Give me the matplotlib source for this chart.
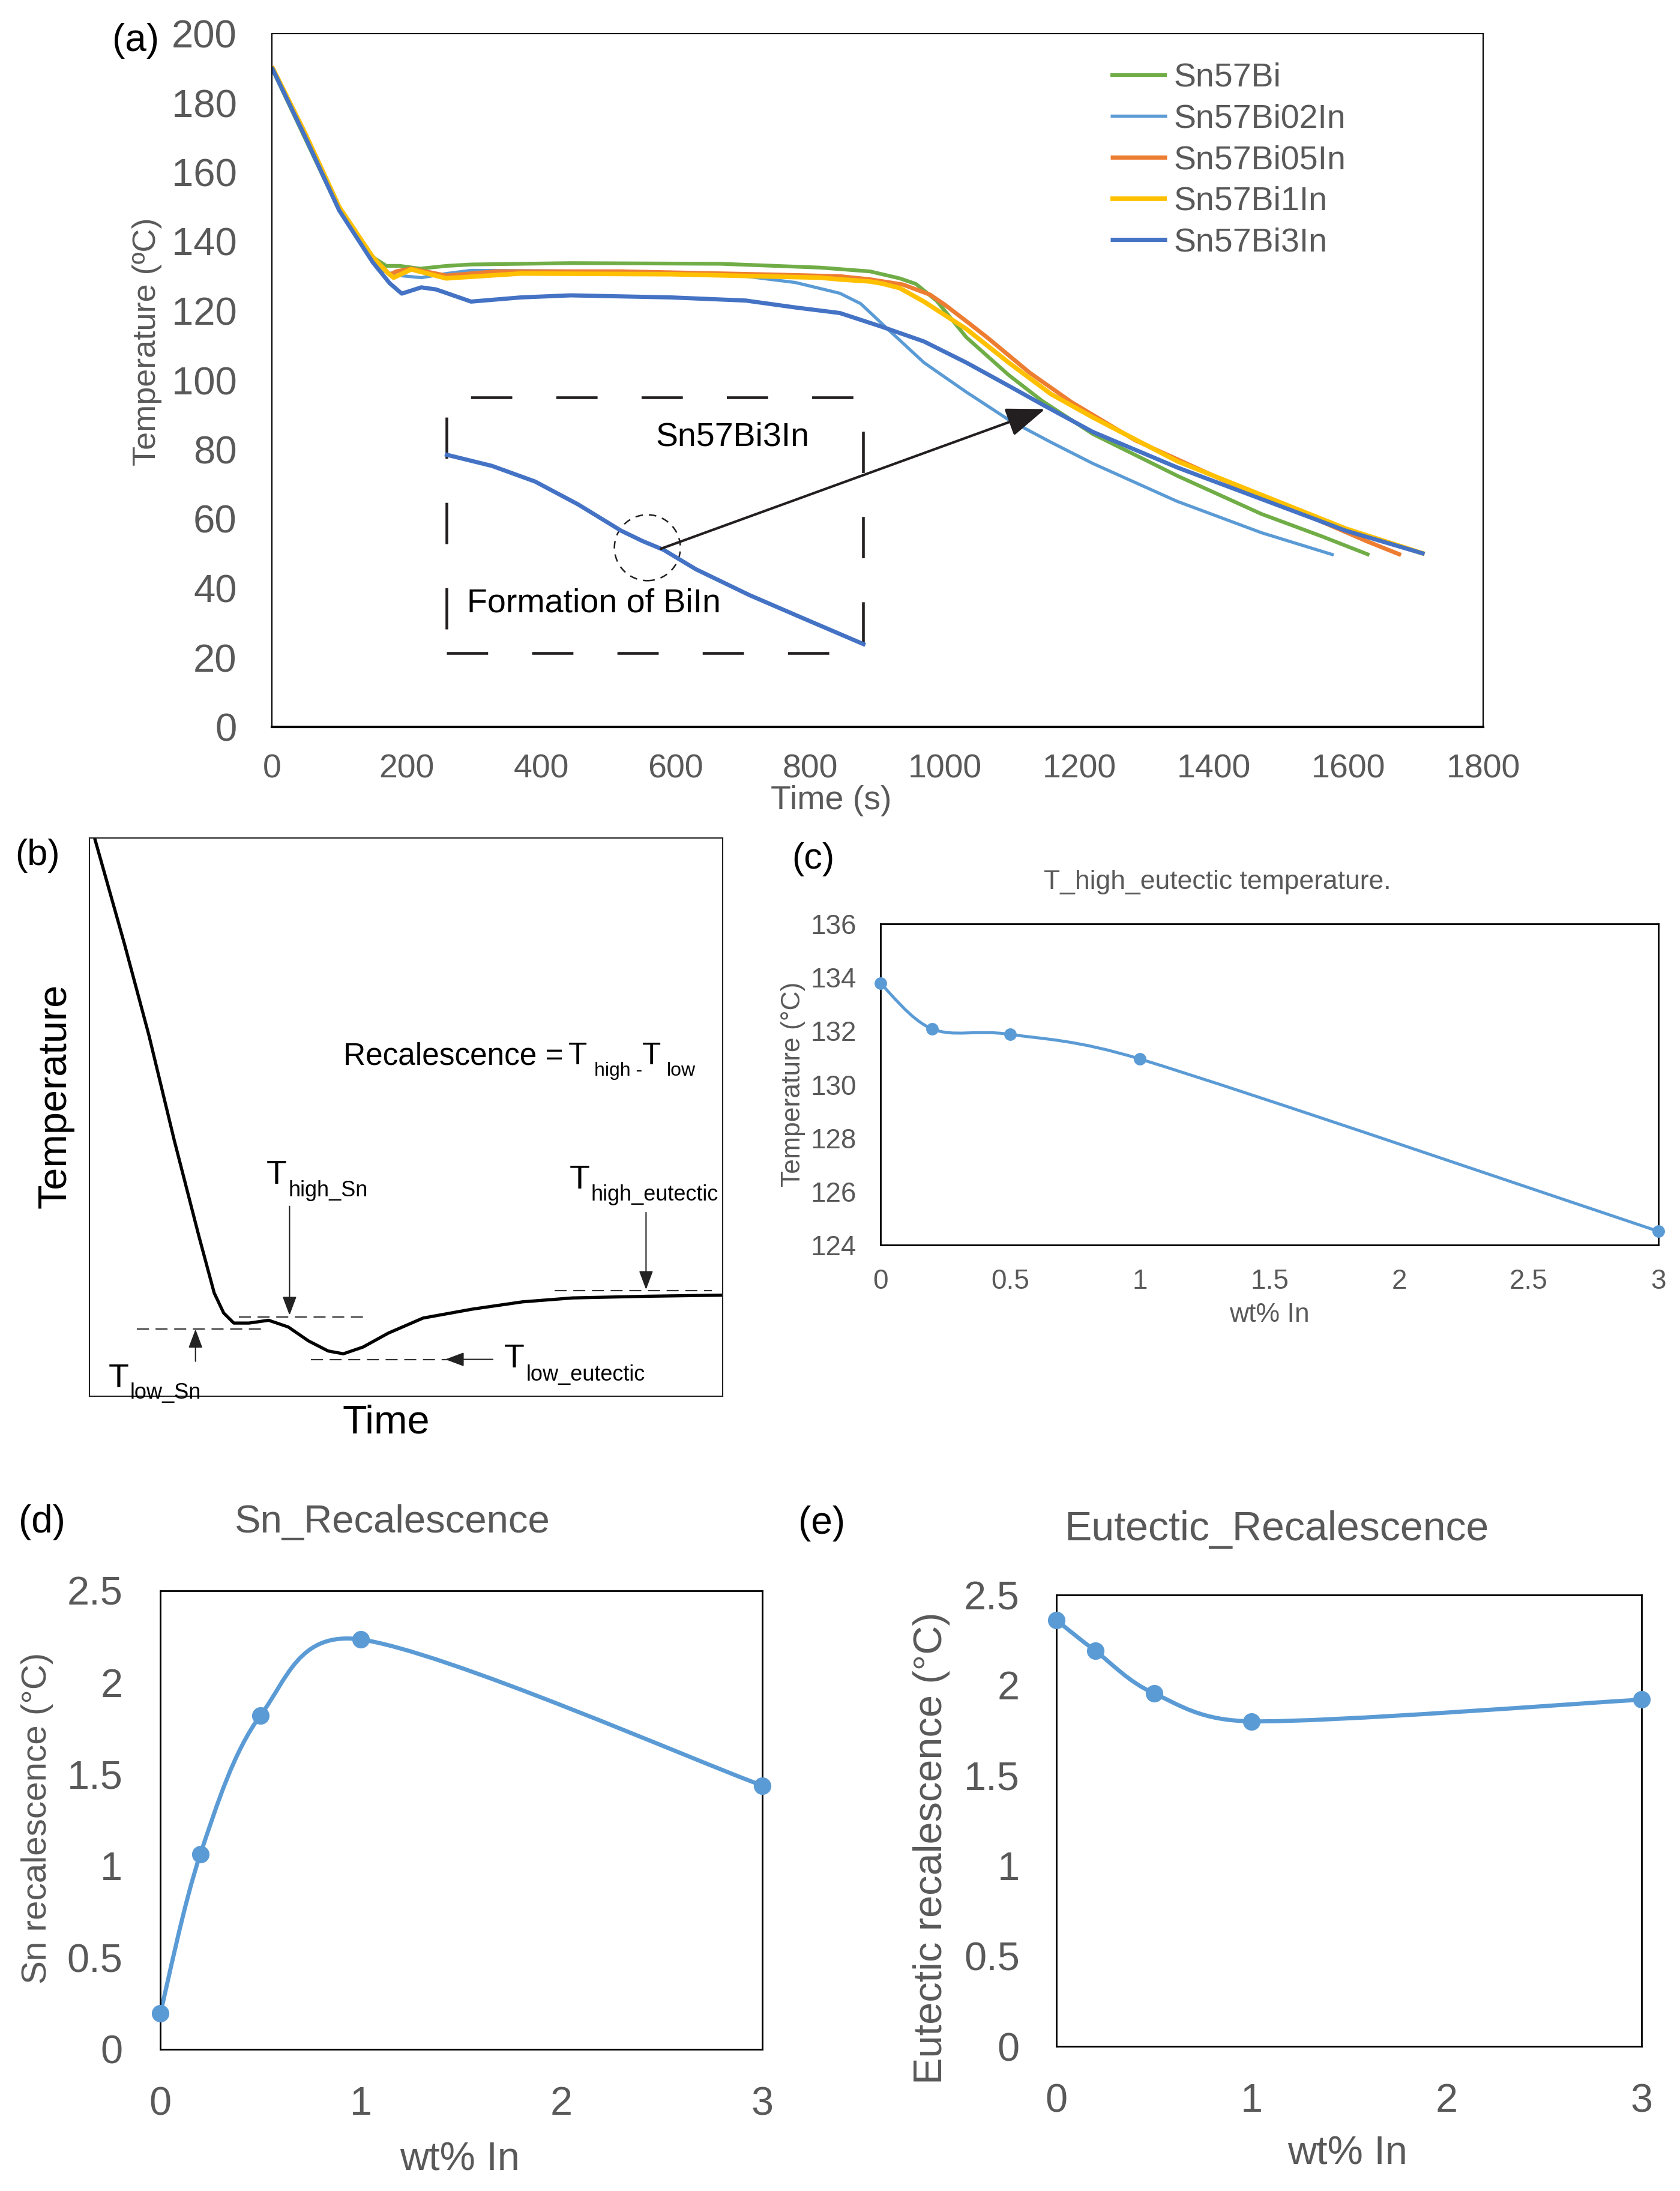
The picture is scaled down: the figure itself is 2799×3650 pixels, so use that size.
import numpy as np
import matplotlib
matplotlib.use("Agg")
import matplotlib.pyplot as plt
from matplotlib.path import Path
from matplotlib.patches import PathPatch, Rectangle, Ellipse

plt.rcParams['font.family'] = ['Liberation Sans', 'DejaVu Sans']

W, H = 2799, 3650
GRAY = '#595959'
BLK = '#231F20'
EXBLUE = '#5B9BD5'

# ---------------- data: panel (a) cooling curves ----------------
sn57bi_t = [0, 50, 100, 150, 170, 190, 220, 260, 296, 444, 667, 815, 889, 933, 957, 988, 1032, 1095, 1145, 1220, 1346, 1471, 1560, 1631]
sn57bi_T = [190, 169.5, 149, 135.5, 133, 133, 132.2, 133, 133.4, 133.8, 133.6, 132.5, 131.4, 129.4, 127.8, 122.9, 112.4, 101.5, 94.0, 84.5, 72.4, 61.4, 55.0, 49.6]

sn57bi02in_t = [0, 50, 100, 150, 163, 185, 222, 260, 296, 519, 704, 778, 844, 875, 915, 969, 1032, 1095, 1158, 1220, 1345, 1471, 1578]
sn57bi02in_T = [190, 170, 149, 134, 131.7, 130.3, 129.6, 130.8, 131.7, 131.4, 130.0, 128.2, 125.1, 122.1, 114.8, 105.1, 96.6, 88.6, 82.1, 76.0, 65.1, 56.0, 49.6]

sn57bi05in_t = [0, 50, 100, 150, 175, 185, 207, 259, 333, 519, 741, 844, 889, 938, 978, 1000, 1037, 1064, 1126, 1189, 1283, 1408, 1534, 1628, 1678]
sn57bi05in_T = [190.5, 171, 150, 135.5, 130.5, 131.4, 132.2, 130.2, 131.4, 131.4, 130.5, 130.0, 129.1, 127.6, 124.7, 121.8, 116.3, 112.2, 102.2, 93.6, 82.7, 71.7, 61.4, 53.5, 49.6]

sn57bi1in_t = [0, 50, 100, 150, 172, 181, 207, 259, 370, 593, 815, 844, 889, 907, 933, 969, 1032, 1095, 1158, 1220, 1346, 1471, 1596, 1713]
sn57bi1in_T = [190.5, 171, 150, 135.5, 131, 129.6, 132, 129.4, 130.8, 130.6, 129.6, 129.1, 128.5, 127.9, 126.6, 122.7, 114.8, 105.1, 96.0, 89.3, 76.6, 66.9, 57.2, 49.9]

sn57bi3in_t = [0, 50, 100, 150, 175, 193, 222, 244, 296, 370, 444, 593, 704, 778, 844, 907, 969, 1032, 1095, 1145, 1220, 1346, 1471, 1596, 1713]
sn57bi3in_T = [190.2, 170, 149, 134, 128, 125.0, 126.8, 126.2, 122.7, 123.9, 124.5, 123.9, 123.0, 121.0, 119.4, 115.4, 111.2, 105.1, 98.4, 93.0, 85.1, 74.8, 65.7, 56.6, 49.9]

inset_t = [260, 327, 391, 455, 519, 551, 582, 630, 710, 790, 879]
inset_T = [78.5, 75.3, 70.8, 64.2, 56.6, 53.6, 51.1, 45.5, 38.0, 31.3, 23.9]

series_names = ['Sn57Bi', 'Sn57Bi02In', 'Sn57Bi05In', 'Sn57Bi1In', 'Sn57Bi3In']
series_colors = ['#70AD47', '#5B9BD5', '#ED7D31', '#FFC000', '#4472C4']
series_lw = [4.5, 3.8, 5.0, 5.5, 5.0]

a_xticks = [0, 200, 400, 600, 800, 1000, 1200, 1400, 1600, 1800]
a_yticks = [0, 20, 40, 60, 80, 100, 120, 140, 160, 180, 200]

# ---------------- data: panel (b) schematic (axes fractions) ----------------
schem_x = [0.008, 0.055, 0.094, 0.134, 0.173, 0.197, 0.212, 0.228, 0.252, 0.283, 0.314, 0.346, 0.377, 0.401, 0.432, 0.472, 0.527, 0.605, 0.684, 0.763, 0.881, 1.0]
schem_y = [1.0, 0.811, 0.646, 0.458, 0.286, 0.185, 0.149, 0.131, 0.131, 0.136, 0.124, 0.099, 0.081, 0.076, 0.088, 0.113, 0.140, 0.156, 0.169, 0.176, 0.179, 0.181]

# ---------------- data: panels (c)-(e) ----------------
wt_in = [0, 0.2, 0.5, 1, 3]
t_high_eut = [133.77, 132.07, 131.87, 130.95, 124.51]
sn_recal = [0.195, 1.065, 1.821, 2.234, 1.438]
eut_recal = [2.36, 2.19, 1.955, 1.80, 1.92]


def fx(px):
    return px / W


def fy(py):
    return 1 - py / H


def ax_rect(l, r, t, b):
    return [l / W, 1 - b / H, (r - l) / W, (b - t) / H]


def smooth_path(ax, x, y):
    """Excel-like smoothed line: Bezier segments built in display space, returned in data space."""
    pts = ax.transData.transform(np.column_stack([np.asarray(x, float), np.asarray(y, float)]))
    n = len(pts)
    verts = [pts[0]]
    codes = [Path.MOVETO]
    for i in range(n - 1):
        p0 = pts[i - 1] if i > 0 else pts[i]
        p1 = pts[i]
        p2 = pts[i + 1]
        p3 = pts[i + 2] if i + 2 < n else pts[i + 1]
        seg = np.hypot(*(p2 - p1))
        v1 = (p2 - p0) / 6.0
        v2 = (p3 - p1) / 6.0
        for v in (v1, v2):
            L = np.hypot(*v)
            if L > seg / 2 and L > 0:
                v *= (seg / 2) / L
        verts += [p1 + v1, p2 - v2, p2]
        codes += [Path.CURVE4] * 3
    verts = ax.transData.inverted().transform(np.array(verts))
    return Path(verts, codes)


fig = plt.figure(figsize=(W / 100, H / 100), dpi=100)

# =============== panel (a) ===============
axa = fig.add_axes(ax_rect(453, 2471, 56, 1211))
all_t = [sn57bi_t, sn57bi02in_t, sn57bi05in_t, sn57bi1in_t, sn57bi3in_t]
all_T = [sn57bi_T, sn57bi02in_T, sn57bi05in_T, sn57bi1in_T, sn57bi3in_T]
for t, T, name, c, lw in zip(all_t, all_T, series_names, series_colors, series_lw):
    axa.plot(t, T, color=c, lw=lw, label=name, solid_joinstyle='round', solid_capstyle='butt')
axa.set_xlim(0, 1800)
axa.set_ylim(0, 200)
axa.set_xticks(a_xticks)
axa.set_yticks(a_yticks)
axa.tick_params(axis='y', length=0, labelsize=47, labelcolor=GRAY, pad=42)
axa.tick_params(axis='x', length=0, labelsize=40, labelcolor=GRAY, pad=32)
for s in ['left', 'right', 'top']:
    axa.spines[s].set_linewidth(1.5)
axa.spines['bottom'].set_linewidth(3.0)

leg = axa.legend(loc='upper left', bbox_to_anchor=(fx(1850), fy(104)), bbox_transform=fig.transFigure,
                 frameon=False, fontsize=40, handlelength=1.7, handletextpad=0.2, labelspacing=0.3,
                 borderpad=0, borderaxespad=0, labelcolor=GRAY)

# inset
axa.add_patch(Rectangle((260, 21.3), 619, 73.7, fill=False, edgecolor=BLK, lw=3.3,
                        linestyle=(0, (15, 16))))
axa.plot(inset_t, inset_T, color='#4472C4', lw=5.0, solid_joinstyle='round')
axa.add_patch(Ellipse((558, 51.7), 98, 19, fill=False, edgecolor=BLK, lw=1.8, linestyle=(0, (5, 4))))
axa.annotate('', xy=(1149, 91.7), xytext=(578, 51.4),
             arrowprops=dict(arrowstyle='-|>,head_length=1.6,head_width=0.6', mutation_scale=25,
                             lw=3, color=BLK, shrinkA=0, shrinkB=0))
axa.text(685, 83.5, 'Sn57Bi3In', fontsize=40, color='black', ha='center', va='center')
axa.text(290, 35.5, 'Formation of BiIn', fontsize=40, color='black', ha='left', va='center')

fig.text(fx(187), fy(68), '(a)', fontsize=46, color='black', ha='left', va='center')
fig.text(fx(245), fy(569), 'Temperature (ºC)', fontsize=39, color=GRAY, rotation=90, ha='center', va='center')
fig.text(fx(1385), fy(1334), 'Time (s)', fontsize=40, color=GRAY, ha='center', va='center')

# =============== panel (b) ===============
axb = fig.add_axes(ax_rect(149, 1204, 1395.5, 2326))
axb.plot(schem_x, schem_y, color='black', lw=3.8, solid_joinstyle='round')
axb.set_xlim(0, 1)
axb.set_ylim(0, 1)
axb.set_xticks([])
axb.set_yticks([])
for s in axb.spines.values():
    s.set_linewidth(1.5)
    s.set_edgecolor('#222222')

dash_kw = dict(color='#333333', lw=1.6, linestyle=(0, (9, 5)))
axb.plot([0.075, 0.275], [0.120, 0.120], **dash_kw)
axb.plot([0.236, 0.44], [0.142, 0.142], **dash_kw)
axb.plot([0.35, 0.566], [0.066, 0.066], **dash_kw)
axb.plot([0.735, 0.983], [0.189, 0.189], **dash_kw)

arr_kw = dict(arrowstyle='-|>,head_length=1.6,head_width=0.6', mutation_scale=12, lw=1.5,
              color='#222222', shrinkA=0, shrinkB=0)
axb.annotate('', xy=(0.1675, 0.120), xytext=(0.1675, 0.0626), arrowprops=arr_kw)
axb.annotate('', xy=(0.316, 0.145), xytext=(0.316, 0.340), arrowprops=arr_kw)
axb.annotate('', xy=(0.879, 0.191), xytext=(0.879, 0.329), arrowprops=arr_kw)
axb.annotate('', xy=(0.562, 0.066), xytext=(0.637, 0.066), arrowprops=arr_kw)

tb = dict(transform=axb.transAxes, color='black', ha='left', va='baseline', clip_on=False)
axb.text(0.401, 0.594, 'Recalescence =', fontsize=37, **tb)
axb.text(0.756, 0.594, 'T', fontsize=37, **tb)
axb.text(0.797, 0.574, 'high -', fontsize=23, **tb)
axb.text(0.873, 0.594, 'T', fontsize=37, **tb)
axb.text(0.912, 0.574, 'low', fontsize=23, **tb)

axb.text(0.279, 0.380, 'T', fontsize=40, **tb)
axb.text(0.3145, 0.358, 'high_Sn', fontsize=26, **tb)
axb.text(0.758, 0.372, 'T', fontsize=40, **tb)
axb.text(0.792, 0.3507, 'high_eutectic', fontsize=26, **tb)
axb.text(0.655, 0.052, 'T', fontsize=40, **tb)
axb.text(0.690, 0.028, 'low_eutectic', fontsize=26, **tb)
axb.text(0.030, 0.016, 'T', fontsize=40, **tb)
axb.text(0.064, -0.004, 'low_Sn', fontsize=26, **tb)

fig.text(fx(25), fy(1425), '(b)', fontsize=44, color='black', ha='left', va='center')
fig.text(fx(93), fy(1826), 'Temperature', fontsize=48, color='black', rotation=90, ha='center', va='center')
fig.text(fx(643), fy(2371), 'Time', fontsize=48, color='black', ha='center', va='center')


# =============== helper for (c)-(e) ===============
def excel_panel(rect, x, y, ylim, yticks, xticks, xticklabels, yticklabels, tick_fs, ypad, xpad, lw, ms):
    ax = fig.add_axes(rect)
    ax.set_xlim(0, 3)
    ax.set_ylim(*ylim)
    ax.add_patch(PathPatch(smooth_path(ax, x, y), fill=False, edgecolor=EXBLUE, lw=lw,
                           capstyle='round', joinstyle='round'))
    ax.plot(x, y, linestyle='none', marker='o', ms=ms, color=EXBLUE, clip_on=False, zorder=3)
    ax.set_xticks(xticks)
    ax.set_xticklabels(xticklabels)
    ax.set_yticks(yticks)
    ax.set_yticklabels(yticklabels)
    ax.tick_params(axis='y', length=0, labelsize=tick_fs, labelcolor=GRAY, pad=ypad)
    ax.tick_params(axis='x', length=0, labelsize=tick_fs, labelcolor=GRAY, pad=xpad)
    for s in ax.spines.values():
        s.set_linewidth(2.0)
        s.set_edgecolor('black')
    return ax


# =============== panel (c) ===============
c_yticks = [124, 126, 128, 130, 132, 134, 136]
c_xticks = [0, 0.5, 1, 1.5, 2, 2.5, 3]
excel_panel(ax_rect(1467, 2763, 1539, 2074), wt_in, t_high_eut, (124, 136), c_yticks,
            c_xticks, ['0', '0.5', '1', '1.5', '2', '2.5', '3'], [str(v) for v in c_yticks],
            33, 29, 28, 3.6, 14)
fig.text(fx(1319), fy(1431), '(c)', fontsize=44, color='black', ha='left', va='center')
fig.text(fx(2028), fy(1470), 'T_high_eutectic temperature.', fontsize=32, color=GRAY, ha='center', va='center')
fig.text(fx(1321), fy(1806), 'Temperature (°C)', fontsize=32, color=GRAY, rotation=90, ha='center', va='center')
fig.text(fx(2115), fy(2191), 'wt% In', fontsize=32, color=GRAY, ha='center', va='center')

# =============== panel (d) ===============
de_yticks = [0, 0.5, 1, 1.5, 2, 2.5]
de_ylabels = ['0', '0.5', '1', '1.5', '2', '2.5']
de_xticks = [0, 1, 2, 3]
excel_panel(ax_rect(267, 1270, 2650, 3414), wt_in, sn_recal, (0, 2.5), de_yticks,
            de_xticks, ['0', '1', '2', '3'], de_ylabels, 48, 45, 44, 5.0, 20)
fig.text(fx(31), fy(2536), '(d)', fontsize=46, color='black', ha='left', va='center')
fig.text(fx(654), fy(2536), 'Sn_Recalescence', fontsize=47, color=GRAY, ha='center', va='center')
fig.text(fx(62), fy(3029), 'Sn recalescence (°C)', fontsize=42, color=GRAY, rotation=90, ha='center', va='center')
fig.text(fx(766), fy(3598), 'wt% In', fontsize=48, color=GRAY, ha='center', va='center')

# =============== panel (e) ===============
excel_panel(ax_rect(1760, 2735, 2657, 3409), wt_in, eut_recal, (0, 2.5), de_yticks,
            de_xticks, ['0', '1', '2', '3'], de_ylabels, 48, 44, 44, 5.0, 20)
fig.text(fx(1330), fy(2538), '(e)', fontsize=46, color='black', ha='left', va='center')
fig.text(fx(2127), fy(2548), 'Eutectic_Recalescence', fontsize=49, color=GRAY, ha='center', va='center')
fig.text(fx(1552), fy(3079), 'Eutectic recalescence (°C)', fontsize=48, color=GRAY, rotation=90, ha='center', va='center')
fig.text(fx(2245), fy(3588), 'wt% In', fontsize=48, color=GRAY, ha='center', va='center')

fig.savefig('out.png', dpi=100, facecolor='white')
